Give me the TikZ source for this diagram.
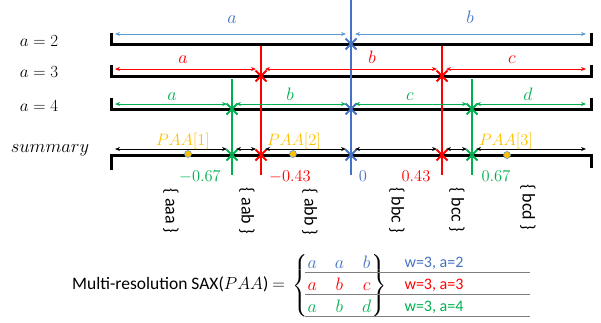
\RequirePackage{fix-cm}
\documentclass[tikz,border=0pt]{standalone}
\usepackage{amsmath}
\usepackage{fontspec}
\setsansfont{Carlito}
\usetikzlibrary{shapes.misc,arrows.meta}
\definecolor{saxblue}{RGB}{68,114,196}
\definecolor{saxlblue}{RGB}{91,155,213}
\definecolor{saxred}{RGB}{255,0,0}
\definecolor{saxgreen}{RGB}{0,176,80}
\definecolor{saxorange}{RGB}{255,192,0}
\definecolor{saxgrey}{RGB}{127,127,127}
\tikzset{
  rowline/.style={line width=3pt},
  cutline/.style={line width=2.5pt},
  span/.style={{Stealth[length=5pt,width=4pt]}-{Stealth[length=5pt,width=4pt]}, line width=0.9pt, shorten <=4pt, shorten >=5pt},
  cutmark/.style={cross out, draw, line width=2pt, minimum size=9pt, inner sep=0pt},
  mathlab/.style={font=\fontsize{17}{20}\selectfont, inner sep=0pt},
  spanlab/.style={font=\fontsize{18}{21}\selectfont, inner sep=0pt, anchor=base},
  numlab/.style={font=\fontsize{16.5}{20}\selectfont, inner sep=0pt, anchor=base},
  paadot/.style={circle, fill=saxorange, draw=saxlblue, line width=0.6pt, minimum size=7pt, inner sep=0pt},
  word/.style={rotate=-90, font=\sffamily\fontsize{18}{21}\selectfont, inner sep=0pt},
  wlab/.style={font=\sffamily\fontsize{16}{19}\selectfont, anchor=base, inner sep=0pt},
  gline/.style={saxgrey, line width=0.8pt}
}
\begin{document}
\begin{tikzpicture}[x=1pt,y=-1pt]
\useasboundingbox (0,0) rectangle (601,322);

\node[mathlab] (lab2) at (39,41) {$a=2$};
\node[mathlab] (lab3) at (39,72) {$a=3$};
\node[mathlab] (lab4) at (39,106) {$a=4$};
\node[mathlab,font=\fontsize{18.5}{21}\selectfont] (labs) at (50,150) {$summary$};

\foreach \n/\x in {lo/111,m67/232,m43/261,z/351,p43/442,p67/472,hi/591}{
  \foreach \r/\y in {a2/34,a3/69,a4/104,as/149}
    \coordinate (\r-\n) at (\x,\y);
  \foreach \r/\y in {l2/44,l3/76,l4/109,ls/155}
    \coordinate (\r-\n) at (\x,\y);
}

\draw[rowline] (l2-lo) ++(0,-11) -- (l2-lo) -- (l2-hi) -- ++(0,-11);
\draw[rowline] (l3-lo) ++(0,-11) -- (l3-lo) -- (l3-hi) -- ++(0,-11);
\draw[rowline] (l4-lo) ++(0,-11) -- (l4-lo) -- (l4-hi) -- ++(0,-11);
\draw[rowline] (ls-lo) ++(0,15) -- (ls-lo) -- (ls-hi) -- ++(0,13);

\coordinate (ztop) at (351,0);
\coordinate (zbot) at (351,175);
\coordinate (m43top) at (261,46);
\coordinate (m43bot) at (261,175);
\coordinate (p43top) at (442,46);
\coordinate (p43bot) at (442,175);
\coordinate (m67top) at (232,79);
\coordinate (m67bot) at (232,175);
\coordinate (p67top) at (472,79);
\coordinate (p67bot) at (472,175);
\draw[cutline,saxblue] (ztop) -- (zbot);
\draw[cutline,saxred] (m43top) -- (m43bot);
\draw[cutline,saxred] (p43top) -- (p43bot);
\draw[cutline,saxgreen] (m67top) -- (m67bot);
\draw[cutline,saxgreen] (p67top) -- (p67bot);

\node[cutmark,saxblue] (x2z) at (l2-z) {};
\node[cutmark,saxred] (x3m43) at (l3-m43) {};
\node[cutmark,saxred] (x3p43) at (l3-p43) {};
\node[cutmark,saxgreen] (x4m67) at (l4-m67) {};
\node[cutmark,saxblue] (x4z) at (l4-z) {};
\node[cutmark,saxgreen] (x4p67) at (l4-p67) {};
\node[cutmark,saxgreen] (xsm67) at (ls-m67) {};
\node[cutmark,saxred] (xsm43) at (ls-m43) {};
\node[cutmark,saxblue] (xsz) at (ls-z) {};
\node[cutmark,saxred] (xsp43) at (ls-p43) {};
\node[cutmark,saxgreen] (xsp67) at (ls-p67) {};

\draw[span,saxlblue] (a2-lo) -- (a2-z);
\draw[span,saxlblue] (a2-z) -- (a2-hi);
\draw[span,saxred] (a3-lo) -- (a3-m43);
\draw[span,saxred] (a3-m43) -- (a3-p43);
\draw[span,saxred] (a3-p43) -- (a3-hi);
\draw[span,saxgreen] (a4-lo) -- (a4-m67);
\draw[span,saxgreen] (a4-m67) -- (a4-z);
\draw[span,saxgreen] (a4-z) -- (a4-p67);
\draw[span,saxgreen] (a4-p67) -- (a4-hi);
\draw[span] (as-lo) -- (as-m67);
\draw[span] (as-m67) -- (as-m43);
\draw[span] (as-m43) -- (as-z);
\draw[span] (as-z) -- (as-p43);
\draw[span] (as-p43) -- (as-p67);
\draw[span] (as-p67) -- (as-hi);

\node[spanlab,saxblue] (s2a) at (232,23) {$a$};
\node[spanlab,saxblue] (s2b) at (470,23) {$b$};
\node[spanlab,saxred] (s3a) at (183,63) {$a$};
\node[spanlab,saxred] (s3b) at (372,63) {$b$};
\node[spanlab,saxred] (s3c) at (512,63) {$c$};
\node[spanlab,saxgreen] (s4a) at (172,100) {$a$};
\node[spanlab,saxgreen] (s4b) at (290,100) {$b$};
\node[spanlab,saxgreen] (s4c) at (410,100) {$c$};
\node[spanlab,saxgreen] (s4d) at (528,100) {$d$};

\node[numlab,saxorange] (paa1) at (183,145) {$PAA[1]$};
\node[numlab,saxorange] (paa2) at (294,145) {$PAA[2]$};
\node[numlab,saxorange] (paa3) at (506,145) {$PAA[3]$};
\node[paadot] (dot1) at (188,154) {};
\node[paadot] (dot2) at (293,154) {};
\node[paadot] (dot3) at (507,155) {};

\node[numlab,saxgreen] (vm67) at (200,181) {$-0.67$};
\node[numlab,saxred] (vm43) at (290,181) {$-0.43$};
\node[numlab,saxblue] (vz) at (363,181) {$0$};
\node[numlab,saxred] (vp43) at (416,181) {$0.43$};
\node[numlab,saxgreen] (vp67) at (496,181) {$0.67$};

\node[word] (waaa) at (171,211) {\{ aaa \}};
\node[word] (waab) at (247,211) {\{ aab \}};
\node[word] (wabb) at (310,212) {\{ abb \}};
\node[word] (wbbc) at (397,210) {\{ bbc \}};
\node[word] (wbcc) at (457,210) {\{ bcc \}};
\node[word] (wbcd) at (528,207) {\{ bcd \}};

\node[anchor=base west, inner sep=0pt, font=\sffamily\fontsize{17.5}{21}\selectfont] (sax) at (72,289) {Multi-resolution SAX($PAA$) $=$};
\node[anchor=west, inner sep=0pt, font=\fontsize{18}{21}\selectfont] (mat) at (292,286) {\renewcommand\arraystretch{1.05}$\left\{\begin{array}{@{}c@{\hspace{18pt}}c@{\hspace{18pt}}c@{}}
\color{saxblue}a & \color{saxblue}a & \color{saxblue}b\\
\color{saxred}a & \color{saxred}b & \color{saxred}c\\
\color{saxgreen}a & \color{saxgreen}b & \color{saxgreen}d
\end{array}\right\}$};

\node[wlab,saxblue] (w2) at (434,267) {w=3, a=2};
\node[wlab,saxred] (w3) at (434,289) {w=3, a=3};
\node[wlab,saxgreen] (w4) at (434,311) {w=3, a=4};
\coordinate (g1l) at (305,272);
\coordinate (g1r) at (530,272);
\coordinate (g2l) at (305,294);
\coordinate (g2r) at (530,294);
\coordinate (g3l) at (305,316);
\coordinate (g3r) at (530,316);
\draw[gline] (g1l) -- (g1r);
\draw[gline] (g2l) -- (g2r);
\draw[gline] (g3l) -- (g3r);
\end{tikzpicture}
\end{document}
